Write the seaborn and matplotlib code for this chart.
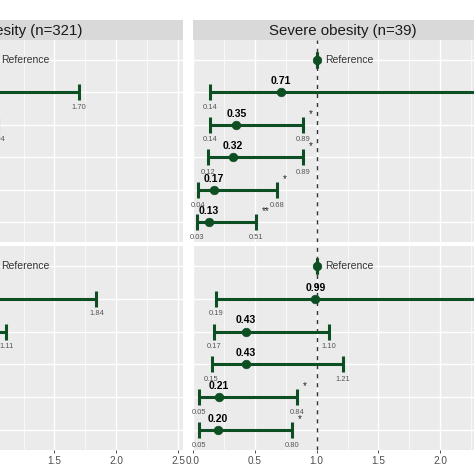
import numpy as np
import pandas as pd
import matplotlib
matplotlib.use("Agg")
import matplotlib.pyplot as plt
import seaborn as sns

# -----------------------------------------
# Data (odds ratios with 95% CI)
# -----------------------------------------

groups = ["Obesity (n=321)", "Severe obesity (n=39)"]
models = ["Model 1", "Model 2"]
levels = ["Reference", "Level 2", "Level 3", "Level 4", "Level 5", "Level 6"]

ob_m1_or = [0.93, 0.64, 0.55, 0.48, 0.41]
ob_m1_lo = [0.51, 0.39, 0.33, 0.28, 0.23]
ob_m1_hi = [1.70, 1.04, 0.92, 0.83, 0.74]
ob_m1_sig = ["", "", "*", "*", "**"]

ob_m2_or = [0.95, 0.68, 0.58, 0.50, 0.45]
ob_m2_lo = [0.49, 0.42, 0.34, 0.29, 0.26]
ob_m2_hi = [1.84, 1.11, 0.95, 0.87, 0.80]
ob_m2_sig = ["", "", "*", "*", "*"]

sev_m1_or = [0.71, 0.35, 0.32, 0.17, 0.13]
sev_m1_lo = [0.14, 0.14, 0.12, 0.04, 0.03]
sev_m1_hi = [3.60, 0.89, 0.89, 0.68, 0.51]
sev_m1_sig = ["", "*", "*", "*", "**"]

sev_m2_or = [0.99, 0.43, 0.43, 0.21, 0.20]
sev_m2_lo = [0.19, 0.17, 0.15, 0.05, 0.05]
sev_m2_hi = [5.12, 1.10, 1.21, 0.84, 0.80]
sev_m2_sig = ["", "", "", "*", "*"]

panels = {
    (groups[0], models[0]): (ob_m1_or, ob_m1_lo, ob_m1_hi, ob_m1_sig),
    (groups[0], models[1]): (ob_m2_or, ob_m2_lo, ob_m2_hi, ob_m2_sig),
    (groups[1], models[0]): (sev_m1_or, sev_m1_lo, sev_m1_hi, sev_m1_sig),
    (groups[1], models[1]): (sev_m2_or, sev_m2_lo, sev_m2_hi, sev_m2_sig),
}

records = []
for (group, model), (ors, los, his, sigs) in panels.items():
    records.append(dict(group=group, model=model, level=levels[0],
                        OR=1.0, lo=1.0, hi=1.0, sig=""))
    for lev, o, l, h, s in zip(levels[1:], ors, los, his, sigs):
        records.append(dict(group=group, model=model, level=lev,
                            OR=o, lo=l, hi=h, sig=s))
df = pd.DataFrame(records)
df["y"] = df["level"].map({lev: i for i, lev in enumerate(levels)})

# -----------------------------------------
# Style
# -----------------------------------------

sns.set_theme(style="darkgrid")
plt.rcParams["font.family"] = ["Liberation Sans", "DejaVu Sans"]

green = "#0d4f22"
W = 474.0

fig = plt.figure(figsize=(4.74, 4.74), dpi=100)

# panel boxes in pixels (left, right, top, bottom); the picture is a crop
col_x = [(-131, 183), (193, 507)]
strip_x = [(-125, 183), (193, 493)]
row_y = [(40, 242), (246, 450)]


def px_box(x0, x1, y0, y1):
    return [x0 / W, 1 - y1 / W, (x1 - x0) / W, (y1 - y0) / W]


for gi, group in enumerate(groups):
    x0, x1 = col_x[gi]

    # strip title
    sax = fig.add_axes(px_box(strip_x[gi][0], strip_x[gi][1], 20, 40))
    sax.set_facecolor("#d9d9d9")
    sax.set_xticks([])
    sax.set_yticks([])
    for sp in sax.spines.values():
        sp.set_visible(False)
    sax.text(0.5, 0.45, group, ha="center", va="center",
             fontsize=10.8, color="#1a1a1a", transform=sax.transAxes)

    for mi, model in enumerate(models):
        y0, y1 = row_y[mi]
        ax = fig.add_axes(px_box(x0, x1, y0, y1))
        ax.set_facecolor("#ebebeb")
        sub = df[(df["group"] == group) & (df["model"] == model)]

        ax.axvline(1.0, color="#333333", lw=1.0, ls=(0, (3, 3.5)), zorder=2)

        ax.errorbar(
            sub["OR"], sub["y"],
            xerr=[sub["OR"] - sub["lo"], sub["hi"] - sub["OR"]],
            fmt="none", ecolor=green, elinewidth=2.2,
            capsize=6, capthick=2.2, zorder=3
        )

        sns.scatterplot(
            data=sub, x="OR", y="y", ax=ax,
            color=green, edgecolor=green, s=38, zorder=4, legend=False
        )

        for _, r in sub.iterrows():
            if r["level"] == levels[0]:
                ax.annotate("Reference", (r["OR"], r["y"]),
                            xytext=(6, 0), textcoords="offset points",
                            ha="left", va="center", fontsize=7.5,
                            color="#333333")
                continue
            ax.annotate(f"{r['OR']:.2f}", (r["OR"], r["y"]),
                        xytext=(0, 8), textcoords="offset points",
                        ha="center", va="center", fontsize=7.5,
                        fontweight="bold", color="black")
            ax.annotate(f"{r['lo']:.2f}", (r["lo"], r["y"]),
                        xytext=(0, -11), textcoords="offset points",
                        ha="center", va="center", fontsize=5.4,
                        color="#555555")
            ax.annotate(f"{r['hi']:.2f}", (r["hi"], r["y"]),
                        xytext=(0, -11), textcoords="offset points",
                        ha="center", va="center", fontsize=5.4,
                        color="#555555")
            if r["sig"]:
                ax.annotate(r["sig"], (r["hi"], r["y"]),
                            xytext=(4, 8), textcoords="offset points",
                            ha="left", va="center", fontsize=7,
                            color="#222222")

        ax.set_xlim(0, 2.54)
        ax.set_ylim(len(levels) - 0.4, -0.6)
        ax.set_xticks(np.arange(0, 2.51, 0.5))
        ax.set_xticks(np.arange(0.25, 2.5, 0.5), minor=True)
        ax.set_yticks(range(len(levels)))
        ax.set_yticklabels(levels if gi == 0 else [])
        ax.grid(which="major", color="white", lw=1.0)
        ax.grid(which="minor", axis="x", color="white", lw=0.5)
        ax.set_xlabel("")
        ax.set_ylabel("")
        for sp in ax.spines.values():
            sp.set_visible(False)

        if mi == len(models) - 1:
            ax.set_xticklabels([f"{v:.1f}" for v in np.arange(0, 2.51, 0.5)])
            ax.tick_params(axis="x", which="major", length=2.5, width=0.6,
                           color="#333333", labelsize=7.2,
                           labelcolor="#4d4d4d", pad=2, bottom=True)
        else:
            ax.set_xticklabels([])
            ax.tick_params(axis="x", which="major", length=0)
        ax.tick_params(axis="x", which="minor", length=0)
        ax.tick_params(axis="y", length=0, labelsize=7.2,
                       labelcolor="#4d4d4d")

fig.savefig("out.png", dpi=100, facecolor="white")
